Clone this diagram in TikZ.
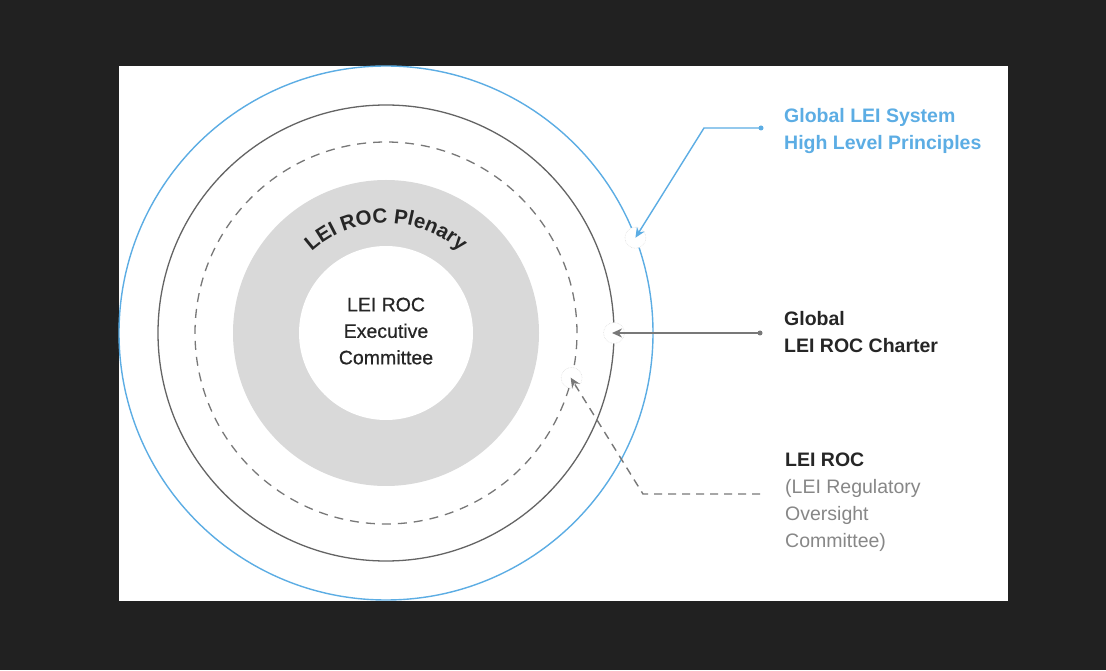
\documentclass[tikz,border=0pt]{standalone}
\usepackage{fontspec}
\setmainfont{Liberation Sans}
\newfontfamily\mediumfont[FakeBold=0.6]{Liberation Sans}
\usetikzlibrary{arrows.meta,calc,decorations.text}
\definecolor{BgDark}{RGB}{33,33,33}
\definecolor{LeiBlue}{RGB}{92,173,228}
\definecolor{RingGray}{RGB}{100,100,100}
\definecolor{DashGray}{RGB}{120,120,120}
\definecolor{PlenaryGray}{RGB}{217,217,217}
\definecolor{TextDark}{RGB}{38,38,38}
\definecolor{NoteGray}{RGB}{135,135,135}
\newcommand\plenaryfont{\fontsize{20.5}{20.5}\selectfont\bfseries\color{TextDark}}
\tikzset{
  bluering/.style={draw=LeiBlue,line width=1.4pt},
  blackring/.style={draw=RingGray,line width=1.3pt},
  dashring/.style={draw=DashGray,line width=1.3pt,dash pattern=on 9pt off 7pt},
  halo/.style={circle,fill=white,draw=black!12,densely dotted,line width=0.6pt,
               minimum size=21pt,inner sep=0pt},
  enddot/.style={circle,inner sep=0pt,minimum size=5pt},
  labeltext/.style={font=\fontsize{19.5}{27}\selectfont\bfseries,align=left,
                    inner sep=0pt,anchor=north west},
  arrblue/.style={-{Stealth[length=10pt,width=9pt]},LeiBlue,line width=1.4pt},
  arrgray/.style={-{Stealth[length=10pt,width=9pt]},DashGray,line width=1.4pt},
  arrdash/.style={-{Stealth[length=10pt,width=9pt]},DashGray,line width=1.4pt,
                  dash pattern=on 8pt off 6pt},
}
\begin{document}
\begin{tikzpicture}[x=1pt,y=1pt]
  % frame
  \fill[BgDark] (0,0) rectangle (1106,670);
  \fill[white] (119,69) rectangle (1008,604);
  \coordinate (c) at (386,337);

  % rings
  \draw[bluering] (c) circle (267pt);
  \draw[blackring] (c) circle (228pt);
  \draw[dashring] (c) circle (191pt);
  \fill[PlenaryGray] (c) circle (153pt);
  \fill[white] (c) circle (87pt);

  \path[decorate,decoration={text along path,text align=center,
        text={|\plenaryfont|LEI ROC Plenary}}]
    ($(c)+(150:110pt)$) arc (150:30:110pt);
  \node[font=\mediumfont\fontsize{19.5}{26.5}\selectfont,text=TextDark,
        align=center,inner sep=0pt,anchor=north] (exec) at (386,372.5)
        {LEI ROC\\Executive\\Committee};

  % labels on the right
  \node[labeltext,text=LeiBlue] (hlp) at (784,561.5)
        {Global LEI System\\High Level Principles};
  \node[labeltext,text=TextDark] (charter) at (784,358.5)
        {Global\\LEI ROC Charter};
  \node[labeltext,text=TextDark] (roc) at (785,217.5) {LEI ROC};
  \node[labeltext,font=\fontsize{19.5}{27}\selectfont,text=NoteGray,
        anchor=north west] (rocnote) at (785,190.5)
        {(LEI Regulatory\\Oversight\\Committee)};

  % pointers
  \coordinate (hlptip) at ($(c)+(20.9:267pt)$);
  \coordinate (chartertip) at ($(c)+(0:226pt)$);
  \coordinate (roctip) at ($(c)+(-13.6:190pt)$);
  \node[halo] (hlphalo) at (hlptip) {};
  \node[halo] (charterhalo) at ($(c)+(0:228pt)$) {};
  \node[halo] (rochalo) at ($(c)+(-13.6:191pt)$) {};

  \node[enddot,fill=LeiBlue] (hlpdot) at (761,542) {};
  \coordinate (hlpbend) at (704,542);
  \draw[arrblue] (hlpdot.center) -- (hlpbend) -- (hlptip);

  \node[enddot,fill=DashGray] (charterdot) at (760,337) {};
  \draw[arrgray] (charterdot.center) -- (chartertip);

  \coordinate (rocstart) at (760,176);
  \coordinate (rocbend) at (643,176);
  \draw[arrdash] (rocstart) -- (rocbend) -- (roctip);
\end{tikzpicture}
\end{document}
